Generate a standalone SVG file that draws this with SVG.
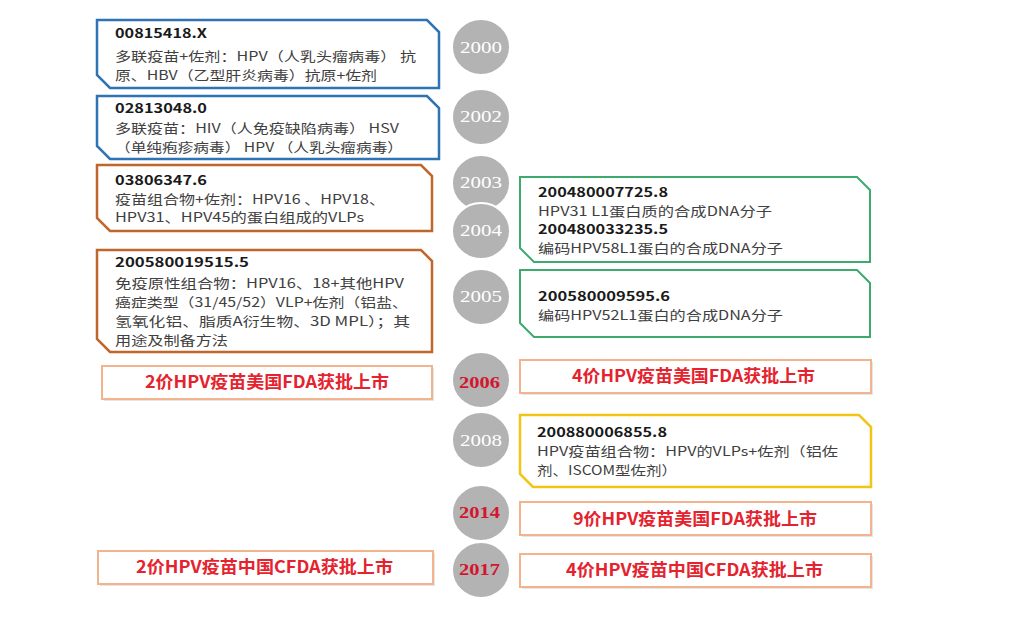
<svg xmlns="http://www.w3.org/2000/svg" width="1020" height="639" viewBox="0 0 1020 639">
<style>
.blue{fill:#fff;stroke:#2e74b5;stroke-width:2.5}
.orange{fill:#fff;stroke:#c0662b;stroke-width:2.5}
.green{fill:#fff;stroke:#3daa6e;stroke-width:2}
.yellow{fill:#fff;stroke:#f2c414;stroke-width:2.5}
.redbox{fill:#fff;stroke:#f3b48d;stroke-width:2}
.shadow{fill:#e6e6e6}
.num{font-family:"Noto Sans CJK SC","Noto Sans",sans-serif;font-weight:bold;font-size:13px;fill:#1a1a1a}
.body{font-family:"Noto Sans CJK SC","Noto Sans",sans-serif;font-size:13px;fill:#404040}
.red{font-family:"Noto Sans CJK SC","Noto Sans",sans-serif;font-weight:bold;font-size:17px;fill:#e5232e}
.yr{fill:#b3b3b3;stroke:#fff;stroke-width:2}
.yt{font-family:"Liberation Serif","DejaVu Serif",serif;font-size:17px;fill:#fff}
.yr-red{font-family:"Liberation Serif","DejaVu Serif",serif;font-size:17px;font-weight:bold;fill:#d4152e}
</style>
<rect width="1020" height="639" fill="#fff"/>
<g id="connectors"></g>

<!-- left patent boxes -->
<g id="box-00815418">
<polygon class="blue" points="97,20 427,20 439,32 439,88 110,88 97,75"/>
<text class="num" x="115" y="38" textLength="92" lengthAdjust="spacingAndGlyphs">00815418.X</text>
<text class="body" x="115" y="61" textLength="301" lengthAdjust="spacingAndGlyphs">多联疫苗+佐剂：HPV（人乳头瘤病毒） 抗</text>
<text class="body" x="115" y="80" textLength="262" lengthAdjust="spacingAndGlyphs">原、HBV（乙型肝炎病毒）抗原+佐剂</text>
</g>
<g id="box-02813048">
<polygon class="blue" points="97,96 427,96 439,108 439,159 110,159 97,146"/>
<text class="num" x="115" y="113" textLength="92" lengthAdjust="spacingAndGlyphs">02813048.0</text>
<text class="body" x="115" y="133" textLength="284" lengthAdjust="spacingAndGlyphs">多联疫苗：HIV（人免疫缺陷病毒） HSV</text>
<text class="body" x="115" y="152" textLength="288" lengthAdjust="spacingAndGlyphs">（单纯疱疹病毒） HPV （人乳头瘤病毒）</text>
</g>
<g id="box-03806347">
<polygon class="orange" points="97,165 421,165 432,176 432,231 110,231 97,218"/>
<text class="num" x="115" y="185" textLength="92" lengthAdjust="spacingAndGlyphs">03806347.6</text>
<text class="body" x="115" y="204" textLength="270" lengthAdjust="spacingAndGlyphs">疫苗组合物+佐剂：HPV16 、HPV18、</text>
<text class="body" x="115" y="222" textLength="249" lengthAdjust="spacingAndGlyphs">HPV31、HPV45的蛋白组成的VLPs</text>
</g>
<g id="box-200580019515">
<polygon class="orange" points="97,250 421,250 432,261 432,352 110,352 97,339"/>
<text class="num" x="115" y="267" textLength="134" lengthAdjust="spacingAndGlyphs">200580019515.5</text>
<text class="body" x="115" y="288" textLength="289" lengthAdjust="spacingAndGlyphs">免疫原性组合物：HPV16、18+其他HPV</text>
<text class="body" x="115" y="307" textLength="293" lengthAdjust="spacingAndGlyphs">癌症类型（31/45/52）VLP+佐剂（铝盐、</text>
<text class="body" x="115" y="326" textLength="295" lengthAdjust="spacingAndGlyphs">氢氧化铝、脂质A衍生物、3D MPL）；其</text>
<text class="body" x="115" y="345" textLength="113" lengthAdjust="spacingAndGlyphs">用途及制备方法</text>
</g>

<!-- left milestone boxes -->
<g id="left-2006">
<rect class="shadow" x="104" y="368" width="330" height="33"/>
<rect class="redbox" x="102" y="366" width="330" height="33"/>
<text class="red" x="145" y="388" textLength="244" lengthAdjust="spacingAndGlyphs">2价HPV疫苗美国FDA获批上市</text>
</g>
<g id="left-2017">
<rect class="shadow" x="100" y="553" width="335" height="33"/>
<rect class="redbox" x="98" y="551" width="335" height="33"/>
<text class="red" x="136" y="573" textLength="257" lengthAdjust="spacingAndGlyphs">2价HPV疫苗中国CFDA获批上市</text>
</g>

<!-- right patent boxes -->
<g id="box-2004-patents">
<polygon class="green" points="520,177 857,177 870,190 870,262 534,262 520,248"/>
<text class="num" x="538" y="197" textLength="130" lengthAdjust="spacingAndGlyphs">200480007725.8</text>
<text class="body" x="538" y="216" textLength="234" lengthAdjust="spacingAndGlyphs">HPV31 L1蛋白质的合成DNA分子</text>
<text class="num" x="538" y="234" textLength="130" lengthAdjust="spacingAndGlyphs">200480033235.5</text>
<text class="body" x="538" y="253" textLength="245" lengthAdjust="spacingAndGlyphs">编码HPV58L1蛋白的合成DNA分子</text>
</g>
<g id="box-200580009595">
<polygon class="green" points="520,270 857,270 870,283 870,337 534,337 520,323"/>
<text class="num" x="538" y="301" textLength="132" lengthAdjust="spacingAndGlyphs">200580009595.6</text>
<text class="body" x="538" y="320" textLength="245" lengthAdjust="spacingAndGlyphs">编码HPV52L1蛋白的合成DNA分子</text>
</g>
<g id="right-2006">
<rect class="shadow" x="522" y="362" width="351" height="33"/>
<rect class="redbox" x="520" y="360" width="351" height="33"/>
<text class="red" x="572" y="382" textLength="243" lengthAdjust="spacingAndGlyphs">4价HPV疫苗美国FDA获批上市</text>
</g>
<g id="box-200880006855">
<polygon class="yellow" points="520,415 859,415 871,427 871,487 533,487 520,474"/>
<text class="num" x="537" y="437" textLength="130" lengthAdjust="spacingAndGlyphs">200880006855.8</text>
<text class="body" x="537" y="456" textLength="301" lengthAdjust="spacingAndGlyphs">HPV疫苗组合物：HPV的VLPs+佐剂（铝佐</text>
<text class="body" x="537" y="475" textLength="140" lengthAdjust="spacingAndGlyphs">剂、ISCOM型佐剂）</text>
</g>
<g id="right-2014">
<rect class="shadow" x="522" y="504" width="351" height="33"/>
<rect class="redbox" x="520" y="502" width="351" height="33"/>
<text class="red" x="573" y="525" textLength="244" lengthAdjust="spacingAndGlyphs">9价HPV疫苗美国FDA获批上市</text>
</g>
<g id="right-2017">
<rect class="shadow" x="522" y="556" width="351" height="33"/>
<rect class="redbox" x="520" y="554" width="351" height="33"/>
<text class="red" x="566" y="576" textLength="257" lengthAdjust="spacingAndGlyphs">4价HPV疫苗中国CFDA获批上市</text>
</g>

<!-- year circles -->
<g id="y2000"><ellipse class="yr" cx="481" cy="47" rx="29" ry="28"/><text class="yt" x="460" y="53" textLength="42" lengthAdjust="spacingAndGlyphs">2000</text></g>
<g id="y2002"><ellipse class="yr" cx="481" cy="117" rx="29" ry="28"/><text class="yt" x="460" y="122" textLength="42" lengthAdjust="spacingAndGlyphs">2002</text></g>
<g id="y2003"><ellipse class="yr" cx="481" cy="183" rx="29" ry="28"/><text class="yt" x="460" y="188" textLength="42" lengthAdjust="spacingAndGlyphs">2003</text></g>
<g id="y2004"><ellipse class="yr" cx="481" cy="231" rx="29" ry="28"/><text class="yt" x="460" y="236" textLength="42" lengthAdjust="spacingAndGlyphs">2004</text></g>
<g id="y2005"><ellipse class="yr" cx="481" cy="297" rx="29" ry="28"/><text class="yt" x="460" y="302" textLength="42" lengthAdjust="spacingAndGlyphs">2005</text></g>
<g id="y2006"><ellipse class="yr" cx="481" cy="380" rx="29" ry="28"/><text class="yr-red" x="459" y="388" textLength="41" lengthAdjust="spacingAndGlyphs">2006</text></g>
<g id="y2008"><ellipse class="yr" cx="481" cy="440" rx="29" ry="28"/><text class="yt" x="460" y="446" textLength="42" lengthAdjust="spacingAndGlyphs">2008</text></g>
<g id="y2014"><ellipse class="yr" cx="481" cy="513" rx="29" ry="28"/><text class="yr-red" x="459" y="518" textLength="41" lengthAdjust="spacingAndGlyphs">2014</text></g>
<g id="y2017"><ellipse class="yr" cx="481" cy="570" rx="29" ry="28"/><text class="yr-red" x="459" y="575" textLength="41" lengthAdjust="spacingAndGlyphs">2017</text></g>
</svg>
